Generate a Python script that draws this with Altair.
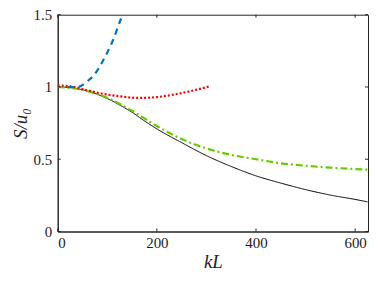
import altair as alt
import pandas as pd

# data
black_x = [0, 25, 50, 75, 100, 125, 150, 175, 200, 250, 300, 350, 400, 450, 500, 550, 600, 625]
black_y = [1.0, 0.995, 0.98, 0.955, 0.92, 0.875, 0.825, 0.765, 0.71, 0.615, 0.525, 0.45, 0.385, 0.335, 0.29, 0.252, 0.222, 0.205]

green_x = [0, 50, 100, 150, 200, 250, 300, 350, 400, 450, 500, 550, 600, 625]
green_y = [1.0, 0.98, 0.925, 0.835, 0.73, 0.64, 0.575, 0.53, 0.50, 0.472, 0.455, 0.442, 0.432, 0.428]

red_x = [0, 25, 50, 85, 125, 165, 200, 230, 265, 305]
red_y = [1.01, 1.005, 0.985, 0.957, 0.935, 0.924, 0.93, 0.945, 0.969, 1.003]

blue_x = [20, 40, 60, 75, 91, 111, 128, 131]
blue_y = [1.0, 1.0, 1.04, 1.09, 1.18, 1.32, 1.475, 1.5]

x_ticks = [0, 200, 400, 600]
y_ticks = [0, 0.5, 1, 1.5]

W, H = 312, 218
SERIF = "serif"

def df(xs, ys, name):
    return pd.DataFrame({"kL": xs, "S": ys, "series": name, "i": range(len(xs))})

xs = alt.Scale(domain=[0, 626], nice=False, zero=False)
ys = alt.Scale(domain=[0, 1.5], nice=False)

xaxis = alt.Axis(values=x_ticks, tickSize=0, grid=False,
                 labelFontSize=15, labelColor="#222", labelPadding=4, domainColor="#222",
                 title="kL", titleFontStyle="italic",
                 titleFontWeight="normal", titleFontSize=19, titleColor="#222", titlePadding=2)
yaxis = alt.Axis(values=y_ticks, tickSize=0, grid=False,
                 labelFontSize=15, labelColor="#222", labelPadding=6, domainColor="#222",
                 labelExpr="datum.value == 0 ? '0' : datum.value == 1 ? '1' : format(datum.value, '.1f')",
                 title="S/u₀", titleFontStyle="italic",
                 titleFontWeight="normal", titleFontSize=19, titleColor="#222", titlePadding=3)

def line(d, color, dash, width):
    return alt.Chart(d).mark_line(color=color, strokeDash=dash, strokeWidth=width, clip=True,
                                  interpolate="monotone").encode(
        x=alt.X("kL:Q", scale=xs, axis=xaxis),
        y=alt.Y("S:Q", scale=ys, axis=yaxis),
        order="i:Q",
    )

black = line(df(black_x, black_y, "black"), "#000000", [1, 0], 1)
green = line(df(green_x, green_y, "green"), "#66CC00", [7, 3, 2, 3], 2.2)
red = line(df(red_x, red_y, "red"), "#FF0000", [2, 2], 2.2)
blue = line(df(blue_x, blue_y, "blue"), "#0072BD", [6, 5], 2.2)

xt = pd.DataFrame({"t": x_ticks})
yt = pd.DataFrame({"t": y_ticks})
tick_style = dict(color="#222", strokeWidth=1)
xb = alt.Chart(xt).mark_rule(**tick_style).encode(x=alt.X("t:Q", scale=xs), y=alt.value(H), y2=alt.value(H - 3))
xtop = alt.Chart(xt).mark_rule(**tick_style).encode(x=alt.X("t:Q", scale=xs), y=alt.value(0), y2=alt.value(3))
yl = alt.Chart(yt).mark_rule(**tick_style).encode(y=alt.Y("t:Q", scale=ys), x=alt.value(0), x2=alt.value(3))
yr = alt.Chart(yt).mark_rule(**tick_style).encode(y=alt.Y("t:Q", scale=ys), x=alt.value(W), x2=alt.value(W - 3))

chart = alt.layer(black, green, red, blue, xb, xtop, yl, yr).properties(
    width=W, height=H,
    autosize=alt.AutoSizeParams(type="none"),
    padding={"left": 50, "top": 6, "right": 3, "bottom": 44},
).configure(background="white", font=SERIF).configure_axis(
    labelFont=SERIF, titleFont=SERIF
).configure_view(stroke="#222", strokeWidth=1)

chart.save("out.html", embed_options={"renderer": "svg", "actions": False})
